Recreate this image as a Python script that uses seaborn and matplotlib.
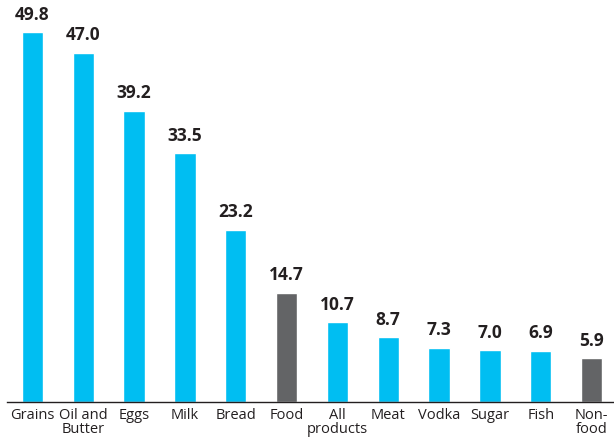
import numpy as np
import pandas as pd
import matplotlib
matplotlib.use("Agg")
import matplotlib.pyplot as plt
import seaborn as sns

# datos del grafico
categorias = ["Grains", "Oil and\nButter", "Eggs", "Milk", "Bread", "Food",
              "All\nproducts", "Meat", "Vodka", "Sugar", "Fish", "Non-\nfood"]
valores = [49.8, 47.0, 39.2, 33.5, 23.2, 14.7, 10.7, 8.7, 7.3, 7.0, 6.9, 5.9]
grupos = ["item", "item", "item", "item", "item", "agg",
          "item", "item", "item", "item", "item", "agg"]
colores = {"item": "#00BEF2", "agg": "#636466"}

df = pd.DataFrame({"cat": categorias, "val": valores, "grp": grupos})

sns.set_style("white")
plt.rcParams["font.family"] = ["Open Sans", "DejaVu Sans"]

fig = plt.figure(figsize=(6.14, 4.45), dpi=100)
ax = fig.add_axes([7 / 614, 43 / 445, 610 / 614, 402 / 445])

sns.barplot(data=df, x="cat", y="val", hue="grp", palette=colores,
            dodge=False, width=0.42, legend=False, ax=ax, saturation=1)

for c in ax.containers:
    ax.bar_label(c, fmt="%.1f", padding=6, fontsize=12.5, fontweight="bold",
                 color="#231F20")

ax.set_xlim(-0.5, len(categorias) - 0.5)
ax.set_ylim(0, 54.1)
ax.set_xlabel("")
ax.set_ylabel("")
ax.set_yticks([])

# marcas entre categorias
ax.set_xticks(np.arange(-0.5, len(categorias) - 0.5, 1.0), minor=True)
ax.tick_params(axis="x", which="minor", length=4, width=1, color="#231F20",
               direction="out")
ax.tick_params(axis="x", which="major", length=0, pad=4, labelsize=10.5,
               labelcolor="#231F20")
for lbl in ax.get_xticklabels():
    lbl.set_linespacing(0.95)

sns.despine(ax=ax, left=True)
ax.spines["bottom"].set_color("#231F20")
ax.spines["bottom"].set_linewidth(1)

fig.savefig("out.png", dpi=100)
